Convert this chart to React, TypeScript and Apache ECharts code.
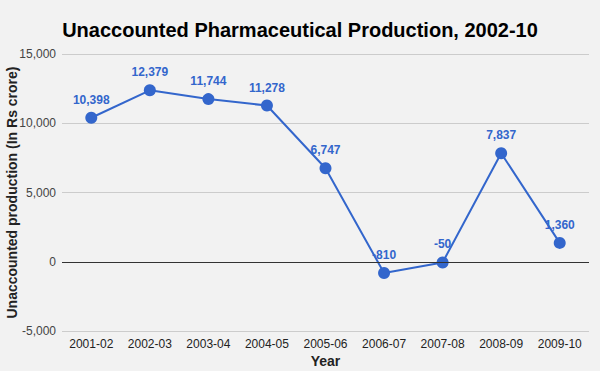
import React, { useEffect, useRef } from "react";
import * as echarts from "echarts";

const categories = ["2001-02", "2002-03", "2003-04", "2004-05", "2005-06", "2006-07", "2007-08", "2008-09", "2009-10"];
const values = [10398, 12379, 11744, 11278, 6747, -810, -50, 7837, 1360];
const yTicks = { min: -5000, max: 15000, interval: 5000 };

export default function App() {
  const ref = useRef<HTMLDivElement>(null);
  useEffect(() => {
    const chart = echarts.init(ref.current!, null, { renderer: "svg" });
    const font = "'Liberation Sans', Arial, sans-serif";
    chart.setOption({
      animation: false,
      backgroundColor: "#f2f2f2",
      title: {
        text: "Unaccounted Pharmaceutical Production, 2002-10",
        left: "center",
        top: 15,
        textStyle: { fontFamily: font, fontSize: 20, fontWeight: "bold", color: "#000" },
      },
      grid: { left: 62, right: 11, top: 54, bottom: 40, containLabel: false, outerBoundsMode: "none" },
      xAxis: {
        type: "category",
        data: categories,
        boundaryGap: true,
        name: "Year",
        nameLocation: "middle",
        nameGap: 23,
        nameMoveOverlap: false,
        nameTextStyle: { fontFamily: font, fontSize: 14, fontWeight: "bold", color: "#222" },
        axisLine: { show: false, onZero: false },
        axisTick: { show: false },
        axisLabel: { fontFamily: font, fontSize: 12, color: "#222", margin: 7, interval: 0 },
      },
      yAxis: {
        type: "value",
        min: yTicks.min,
        max: yTicks.max,
        interval: yTicks.interval,
        name: "Unaccounted production (In Rs crore)",
        nameLocation: "middle",
        nameGap: 43,
        nameMoveOverlap: false,
        nameTextStyle: { fontFamily: font, fontSize: 14, fontWeight: "bold", color: "#222" },
        axisLine: { show: false },
        axisTick: { show: false },
        axisLabel: {
          fontFamily: font,
          fontSize: 12,
          color: "#444",
          margin: 6,
          formatter: (v: number) => v.toLocaleString("en-US"),
        },
        splitLine: { lineStyle: { color: "#cccccc", width: 1 } },
      },
      series: [
        {
          type: "line",
          data: values,
          color: "#3366cc",
          lineStyle: { width: 2, color: "#3366cc" },
          symbol: "circle",
          symbolSize: 12,
          itemStyle: { color: "#3366cc" },
          label: {
            show: true,
            position: "top",
            distance: 6,
            fontFamily: font,
            fontSize: 12,
            fontWeight: "bold",
            color: "#3366cc",
            formatter: (p: any) => Number(p.value).toLocaleString("en-US"),
          },
          markLine: {
            silent: true,
            symbol: "none",
            label: { show: false },
            lineStyle: { color: "#333", width: 1, type: "solid" },
            data: [{ yAxis: 0 }],
          },
          z: 3,
        },
      ],
    });
    return () => chart.dispose();
  }, []);
  return <div ref={ref} style={{ width: 600, height: 371, position: "absolute", left: 0, top: 0 }} />;
}
